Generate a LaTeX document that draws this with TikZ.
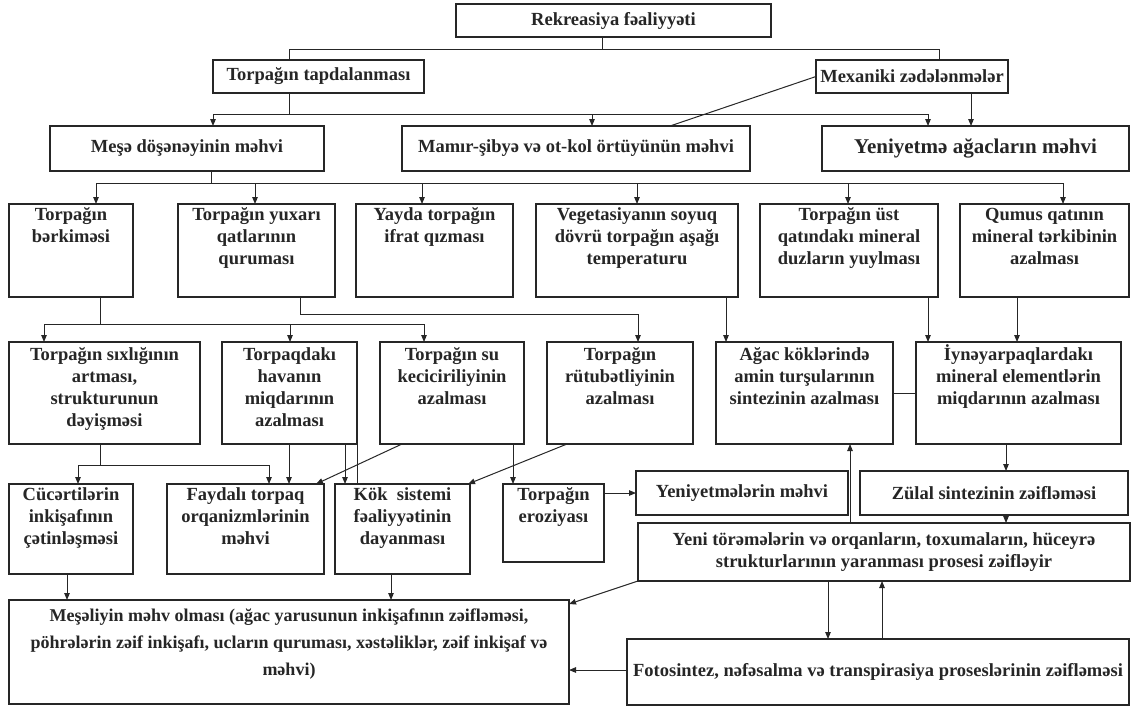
\documentclass[tikz,border=0pt]{standalone}
\usepackage{fontspec}
\setmainfont{Liberation Serif}
\usetikzlibrary{arrows.meta}
\tikzset{
  box/.style={draw=black!85, line width=1.1pt, inner sep=0pt, outer sep=0pt, text=black!85,
    font=\bfseries\fontsize{18.5}{22}\selectfont},
  arr/.style={draw=black!85, line width=1pt, -{Triangle[length=7pt,width=5.5pt]}},
  ln/.style={draw=black!85, line width=1pt},
}
% top-aligned box: [style]{name}{x1}{y1}{x2}{y2}{pad}{text}
\newcommand\bxt[8][]{%
  \node[box,#1] (#2) at ({(#3+#5)/2},{(#4+#6)/2})
  {\begin{minipage}[c][\dimexpr#6pt-#4pt\relax][t]{\dimexpr#5pt-#3pt\relax}\centering\vspace*{#7pt}\strut #8\end{minipage}};}
% centred box: [style]{name}{x1}{y1}{x2}{y2}{text}
\newcommand\bxc[7][]{%
  \node[box,#1] (#2) at ({(#3+#5)/2},{(#4+#6)/2})
  {\begin{minipage}[c][\dimexpr#6pt-#4pt\relax][c]{\dimexpr#5pt-#3pt\relax}\centering #7\end{minipage}};}
\begin{document}
\begin{tikzpicture}[x=1pt,y={(0pt,-1pt)}]
\fill[white] (0,0) rectangle (1131,707);
\useasboundingbox (0,0) rectangle (1131,707);

% row 0 / 1
\bxc{r0}{456}{4}{771}{37}{Rekreasiya fəaliyyəti}
\bxc{t1}{213}{60}{424}{93}{Torpağın tapdalanması}
\bxc{m1}{816}{60}{1008}{93}{Mexaniki zədələnmələr}
% row 2
\bxc{a2}{50}{126}{324}{171}{Meşə döşənəyinin məhvi}
\bxc{b2}{402}{126}{750}{171}{Mamır-şibyə və ot-kol örtüyünün məhvi}
\bxc[font=\bfseries\fontsize{21}{25}\selectfont]{c2}{822}{126}{1129}{171}{Yeniyetmə ağacların məhvi}
% row 3
\bxt{d3}{9}{204}{133}{297}{1}{Torpağın\\bərkiməsi}
\bxt{e3}{178}{204}{335}{297}{1}{Torpağın yuxarı\\qatlarının\\quruması}
\bxt{f3}{356}{204}{513}{297}{1}{Yayda torpağın\\ifrat qızması}
\bxt{g3}{536}{204}{738}{297}{1}{Vegetasiyanın soyuq\\dövrü torpağın aşağı\\temperaturu}
\bxt{h3}{760}{204}{938}{297}{1}{Torpağın üst\\qatındakı mineral\\duzların yuylması}
\bxt{i3}{960}{204}{1129}{297}{1}{Qumus qatının\\mineral tərkibinin\\azalması}
% row 4
\bxt{l4}{9}{342}{200}{444}{3}{Torpağın sıxlığının\\artması,\\strukturunun\\dəyişməsi}
\bxt{m4}{222}{342}{357}{444}{3}{Torpaqdakı\\havanın\\miqdarının\\azalması}
\bxt{n4}{380}{342}{524}{444}{3}{Torpağın su\\keciciriliyinin\\azalması}
\bxt{o4}{547}{342}{693}{444}{3}{Torpağın\\rütubətliyinin\\azalması}
\bxt{j4}{716}{342}{893}{444}{3}{Ağac köklərində\\amin turşularının\\sintezinin azalması}
\bxt{k4}{916}{342}{1121}{444}{3}{İynəyarpaqlardakı\\mineral elementlərin\\miqdarının azalması}
% row 5
\bxt{p5}{9}{484}{133}{574}{1}{Cücərtilərin\\inkişafının\\çətinləşməsi}
\bxt{q5}{167}{484}{324}{574}{1}{Faydalı torpaq\\orqanizmlərinin\\məhvi}
\bxt{r5}{335}{484}{470}{574}{1}{Kök\enspace sistemi\\fəaliyyətinin\\dayanması}
\bxt{s5}{503}{484}{604}{562}{1}{Torpağın\\eroziyası}
\bxc{u5}{636}{471}{848}{515}{Yeniyetmələrin məhvi}
\bxc{v5}{860}{471}{1128}{515}{Zülal sintezinin zəifləməsi}
\bxc{yeni}{638}{523}{1130}{581}{Yeni törəmələrin və orqanların, toxumaların, hüceyrə\\strukturlarının yaranması prosesi zəifləyir}
\bxc{fot}{627}{639}{1129}{705}{Fotosintez, nəfəsalma və transpirasiya proseslərinin zəifləməsi\\[14pt]}
\bxt[font=\bfseries\fontsize{18}{27}\selectfont]{mes}{9}{600}{569}{704}{3}{Meşəliyin məhv olması (ağac yarusunun inkişafının zəifləməsi,\\pöhrələrin zəif inkişafı, ucların quruması, xəstəliklər, zəif inkişaf və\\məhvi)}

% bus 0
\coordinate (j0) at (602,49);
\coordinate (j0l) at (289,49);
\coordinate (j0r) at (939,49);
\draw[ln] (r0.south -| j0) -- (j0);
\draw[ln] (t1.north -| j0l) -- (j0l) -- (j0r) -- (m1.north -| j0r);
% bus 1
\coordinate (j1t) at (289,114);
\coordinate (j1a) at (213,114);
\coordinate (j1b) at (592,114);
\coordinate (j1c) at (928,114);
\draw[ln] (t1.south -| j1t) -- (j1t);
\draw[ln] (j1a) -- (j1c);
\draw[arr] (j1a) -- (a2.north -| j1a);
\draw[arr] (j1b) -- (b2.north -| j1b);
\draw[arr] (j1c) -- (c2.north -| j1c);
\coordinate (xm) at (971,0);
\draw[arr] (m1.south -| xm) -- (c2.north -| xm);
\coordinate (xd) at (670,0);
\draw[ln] (m1.west) -- (b2.north -| xd);
% bus 2
\coordinate (j2s) at (211,183);
\coordinate (j2a) at (96,183);
\coordinate (j2b) at (255,183);
\coordinate (j2c) at (422,183);
\coordinate (j2d) at (637,183);
\coordinate (j2e) at (848,183);
\coordinate (j2f) at (1063,183);
\draw[ln] (a2.south -| j2s) -- (j2s);
\draw[ln] (j2a) -- (j2f);
\draw[arr] (j2a) -- (d3.north -| j2a);
\draw[arr] (j2b) -- (e3.north -| j2b);
\draw[arr] (j2c) -- (f3.north -| j2c);
\draw[arr] (j2d) -- (g3.north -| j2d);
\draw[arr] (j2e) -- (h3.north -| j2e);
\draw[arr] (j2f) -- (i3.north -| j2f);
% row 3 -> 4
\coordinate (j3s) at (100,324);
\coordinate (j3a) at (44,324);
\coordinate (j3b) at (290,324);
\coordinate (j3c) at (424,324);
\draw[ln] (d3.south -| j3s) -- (j3s);
\draw[ln] (j3a) -- (j3c);
\draw[arr] (j3a) -- (l4.north -| j3a);
\draw[arr] (j3b) -- (m4.north -| j3b);
\draw[arr] (j3c) -- (n4.north -| j3c);
\coordinate (j4s) at (300,314);
\coordinate (j4e) at (638,314);
\draw[ln] (e3.south -| j4s) -- (j4s) -- (j4e);
\draw[arr] (j4e) -- (o4.north -| j4e);
\coordinate (xg) at (726,0);
\draw[arr] (g3.south -| xg) -- (j4.north -| xg);
\coordinate (xh) at (928,0);
\draw[arr] (h3.south -| xh) -- (k4.north -| xh);
\coordinate (xi) at (1017,0);
\draw[arr] (i3.south -| xi) -- (k4.north -| xi);
\draw[ln] (j4.east) -- (k4.west);
% row 4 -> 5
\coordinate (j5s) at (100,465);
\coordinate (j5a) at (78,465);
\coordinate (j5b) at (269,465);
\draw[ln] (l4.south -| j5s) -- (j5s);
\draw[ln] (j5a) -- (j5b);
\draw[arr] (j5a) -- (p5.north -| j5a);
\draw[arr] (j5b) -- (q5.north -| j5b);
\coordinate (x289) at (289,0);
\coordinate (x345) at (345,0);
\draw[arr] (m4.south -| x289) -- (q5.north -| x289);
\draw[arr] (m4.south -| x345) -- (r5.north -| x345);
\draw[ln] (m4.south east) -- (r5.north -| m4.south east);
\coordinate (xn1) at (402,0);
\coordinate (xq) at (316,0);
\draw[arr] (n4.south -| xn1) -- (q5.north -| xq);
\coordinate (x513) at (513,0);
\draw[arr] (n4.south -| x513) -- (s5.north -| x513);
\coordinate (xo1) at (567,0);
\coordinate (xr) at (468,0);
\draw[arr] (o4.south -| xo1) -- (r5.north -| xr);
% row 5 and bottom
\draw[arr] (u5.west -| s5.east) -- (u5.west);
\coordinate (x1006) at (1006,0);
\draw[arr] (k4.south -| x1006) -- (v5.north -| x1006);
\draw[arr] (v5.south -| x1006) -- (yeni.north -| x1006);
\coordinate (x850) at (850,0);
\draw[arr] (yeni.north -| x850) -- (j4.south -| x850);
\draw[arr] (yeni.south west) -- ([yshift=-4pt]mes.north east);
\coordinate (x828) at (828,0);
\coordinate (x882) at (882,0);
\draw[arr] (yeni.south -| x828) -- (fot.north -| x828);
\draw[arr] (fot.north -| x882) -- (yeni.south -| x882);
\coordinate (yf) at (0,670);
\draw[arr] (fot.west |- yf) -- (mes.east |- yf);
\coordinate (x67) at (67,0);
\coordinate (x391) at (391,0);
\draw[arr] (p5.south -| x67) -- (mes.north -| x67);
\draw[arr] (r5.south -| x391) -- (mes.north -| x391);
\end{tikzpicture}
\end{document}
